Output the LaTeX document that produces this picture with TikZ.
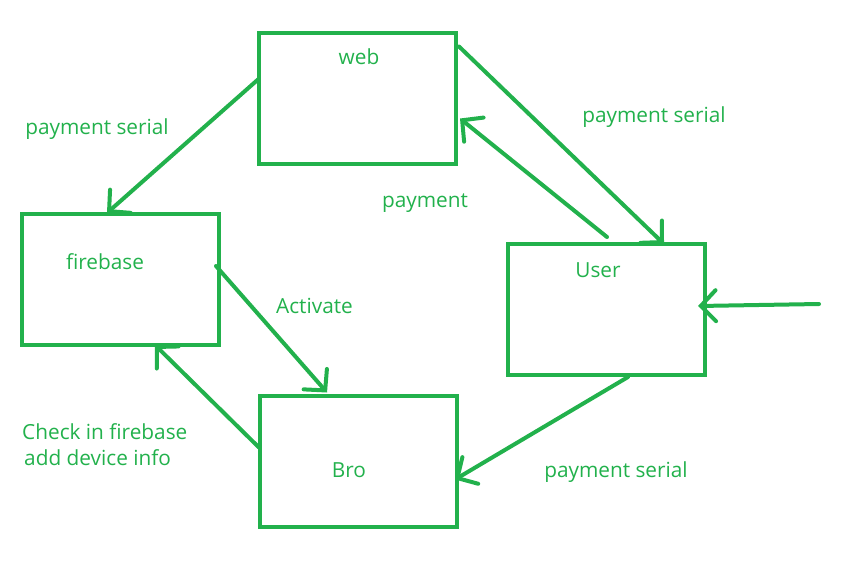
\documentclass[tikz,border=0pt]{standalone}
\usepackage{fontspec}
\setmainfont{Open Sans}
\usetikzlibrary{arrows.meta,calc}
\definecolor{pgreen}{RGB}{34,177,76}
\begin{document}
\begin{tikzpicture}[x=1pt,y=-1pt,
  box/.style={draw=pgreen,line width=4pt,minimum width=197pt,minimum height=131pt,inner sep=0pt,outer sep=0pt},
  lbl/.style={text=pgreen,font=\fontsize{20.8}{26}\selectfont,inner sep=0pt},
  conn/.style={draw=pgreen,line width=4pt,line cap=round,-{Straight Barb[length=15pt,width=31pt,line cap=round]}}]
\useasboundingbox (0,0) rectangle (843,579);
% boxes
\node[box] (web) at (357.5,98) {};
\node[box] (firebase) at (120.5,279.5) {};
\node[box] (User) at (606.5,309.5) {};
\node[box] (Bro) at (358.5,461) {};
% box texts
\node[lbl,anchor=base] (tweb) at (359,64) {web};
\node[lbl,anchor=base] (tfire) at (105,269) {firebase};
\node[lbl,anchor=base] (tuser) at (598,277) {User};
\node[lbl,anchor=base] (tbro) at (349,477) {Bro};
% connector labels
\node[lbl,anchor=base] (l1) at (97,134) {payment serial};
\node[lbl,anchor=base] (l2) at (654,122) {payment serial};
\node[lbl,anchor=base] (l3) at (425,207) {payment};
\node[lbl,anchor=base] (l4) at (314.5,313) {Activate};
\node[lbl,anchor=base west,align=left] (l5) at (22,439) {Check in firebase};
\node[lbl,anchor=base west,align=left] (l6) at (24,465) {add device info};
\node[lbl,anchor=base] (l7) at (616,477) {payment serial};
% connectors
\coordinate (src) at (819,304);
\draw[conn] ($(web.north west)+(-1,47)$) -- ($(firebase.north west)+(85,-1)$);
\draw[conn] ($(web.north east)+(3,14)$) -- ($(User.north west)+(156,0)$);
\draw[conn] ($(User.north west)+(99,-7)$) -- ($(web.north east)+(4,86)$);
\draw[conn] ($(firebase.north east)+(-3,52)$) -- ($(Bro.north west)+(67,-3)$);
\draw[conn] ($(Bro.north west)+(-1,52)$) -- ($(firebase.south west)+(133,0)$);
\draw[conn] ($(User.south west)+(120,2)$) -- ($(Bro.north east)+(-2,84)$);
\draw[conn] (src) -- ($(User.north east)+(-7,62)$);
\end{tikzpicture}
\end{document}
